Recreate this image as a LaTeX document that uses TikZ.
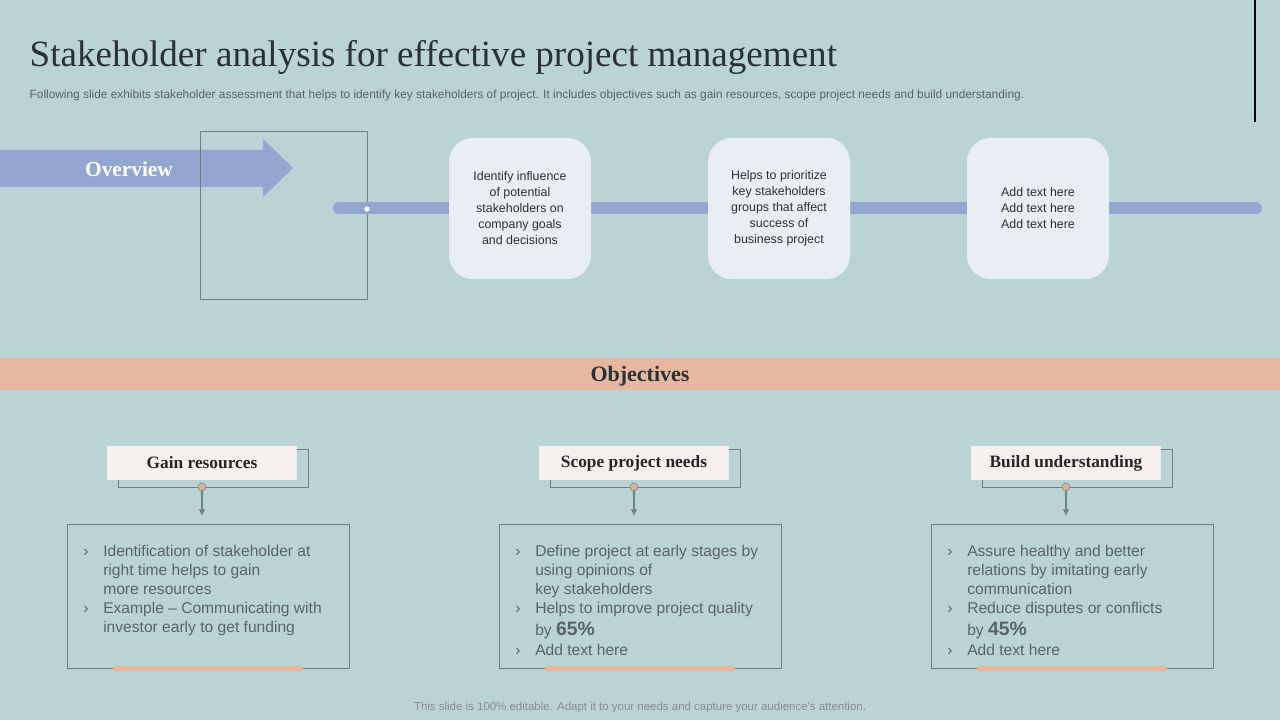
\documentclass[tikz,border=0pt]{standalone}
\usepackage{fontspec}
\usetikzlibrary{arrows.meta}
\setmainfont{Liberation Serif}
\newfontfamily\sans{Liberation Sans}
\begin{document}
\begin{tikzpicture}[x=0.75pt,y=-0.75pt,
  card/.style={rounded corners=18pt,fill=cardc,minimum width=106.5pt,minimum height=106pt,align=center,font=\sans\fontsize{9.3}{12}\selectfont,text=textd},
  hdr/.style={fill=hdrc,minimum width=142.5pt,minimum height=25.5pt,font=\bfseries\fontsize{13}{15}\selectfont,text=black!85},
  back/.style={draw=linec,line width=0.6pt},
  cbox/.style={draw=linec,line width=0.6pt},
  btxt/.style={anchor=base west,inner sep=0pt,font=\sans\fontsize{11.7}{14.25}\selectfont,text=textg},
  dot/.style={circle,fill=dotc,draw=linec,line width=0.4pt,inner sep=0pt,minimum size=6pt}]
\definecolor{bgc}{HTML}{B9D3D6}
\definecolor{bluec}{HTML}{93A6CF}
\definecolor{cardc}{HTML}{E8EEF4}
\definecolor{hdrc}{HTML}{F5EFEE}
\definecolor{linec}{HTML}{717F80}
\definecolor{peach}{HTML}{E6B8A0}
\definecolor{dotc}{HTML}{D9B3A0}
\definecolor{textd}{HTML}{2A3035}
\definecolor{textg}{HTML}{5A6466}
\fill[bgc] (0,0) rectangle (1280,720);
\useasboundingbox (0,0) rectangle (1280,720);
\draw[black,line width=2.2pt] (1255,0) -- (1255,122);
\node[anchor=west,font=\fontsize{27.8}{30}\selectfont,text=textd] (title) at (25,57) {Stakeholder analysis for effective project management};
\node[anchor=west,font=\sans\fontsize{8.9}{9}\selectfont,text=textg] (sub) at (25,95) {Following slide exhibits stakeholder assessment that helps to identify key stakeholders of project. It includes objectives such as gain resources, scope project needs and build understanding.};
\fill[bluec] (0,150) -- (263,150) -- (263,139) -- (293,168) -- (263,197) -- (263,187) -- (0,187) -- cycle;
\node[font=\bfseries\fontsize{16}{18}\selectfont,text=white] (ov) at (129,169) {Overview};
\draw[linec,line width=0.6pt] (200,131) rectangle (367,299);
\draw[bluec,line width=9pt,line cap=round] (339,208.5) -- (1256,208.5);
\fill[white] (367,209) circle (2pt);
\node[card] (c1) at (520,208.5) {Identify influence\\of potential\\stakeholders on\\company goals\\and decisions};
\node[card] (c2) at (779,208.5) {Helps to prioritize\\key stakeholders\\groups that affect\\success of\\business project};
\node[card] (c3) at (1038,208.5) {Add text here\\Add text here\\Add text here};
\fill[peach] (0,358) rectangle (1280,390);
\node[font=\bfseries\fontsize{16.5}{18}\selectfont,text=textd] (obj) at (640,376) {Objectives};
\foreach \cx/\name/\lab in {202/a/Gain resources,634/b/Scope project needs,1066/c/Build understanding}{
  \draw[back] (\cx-84,449) rectangle (\cx+106,487);
  \node[hdr] (h\name) at (\cx,463) {\lab};
  \node[dot] (d\name) at (\cx,487) {};
  \draw[cbox] (\cx-135,524) rectangle (\cx+147,668);
  \coordinate (t\name) at (\cx,516);
  \draw[linec,line width=0.8pt,-{Latex[length=5pt,width=5pt]}] (d\name) -- (t\name);
  \draw[peach,line width=3.5pt] (\cx-89,668.5) -- (\cx+101,668.5);
}
% column 1
\node[btxt] (a1) at (83,556) {›};
\node[btxt] (a2) at (103,556) {Identification of stakeholder at};
\node[btxt] (a3) at (103,575) {right time helps to gain};
\node[btxt] (a4) at (103,594) {more resources};
\node[btxt] (a5) at (83,613) {›};
\node[btxt] (a6) at (103,613) {Example – Communicating with};
\node[btxt] (a7) at (103,632) {investor early to get funding};
% column 2
\node[btxt] (b1) at (515,556) {›};
\node[btxt] (b2) at (535,556) {Define project at early stages by};
\node[btxt] (b3) at (535,575) {using opinions of};
\node[btxt] (b4) at (535,594) {key stakeholders};
\node[btxt] (b5) at (515,613) {›};
\node[btxt] (b6) at (535,613) {Helps to improve project quality};
\node[btxt] (b7) at (535,635) {by {\bfseries\fontsize{14.5}{15}\selectfont 65\%}};
\node[btxt] (b8) at (515,655) {›};
\node[btxt] (b9) at (535,655) {Add text here};
% column 3
\node[btxt] (c1a) at (947,556) {›};
\node[btxt] (c2a) at (967,556) {Assure healthy and better};
\node[btxt] (c3a) at (967,575) {relations by imitating early};
\node[btxt] (c4a) at (967,594) {communication};
\node[btxt] (c5a) at (947,613) {›};
\node[btxt] (c6a) at (967,613) {Reduce disputes or conflicts};
\node[btxt] (c7a) at (967,635) {by {\bfseries\fontsize{14.5}{15}\selectfont 45\%}};
\node[btxt] (c8a) at (947,655) {›};
\node[btxt] (c9a) at (967,655) {Add text here};
\node[font=\sans\fontsize{8.6}{10}\selectfont,text=black!45] (foot) at (640,708) {This slide is 100\% editable. Adapt it to your needs and capture your audience's attention.};
\end{tikzpicture}
\end{document}
